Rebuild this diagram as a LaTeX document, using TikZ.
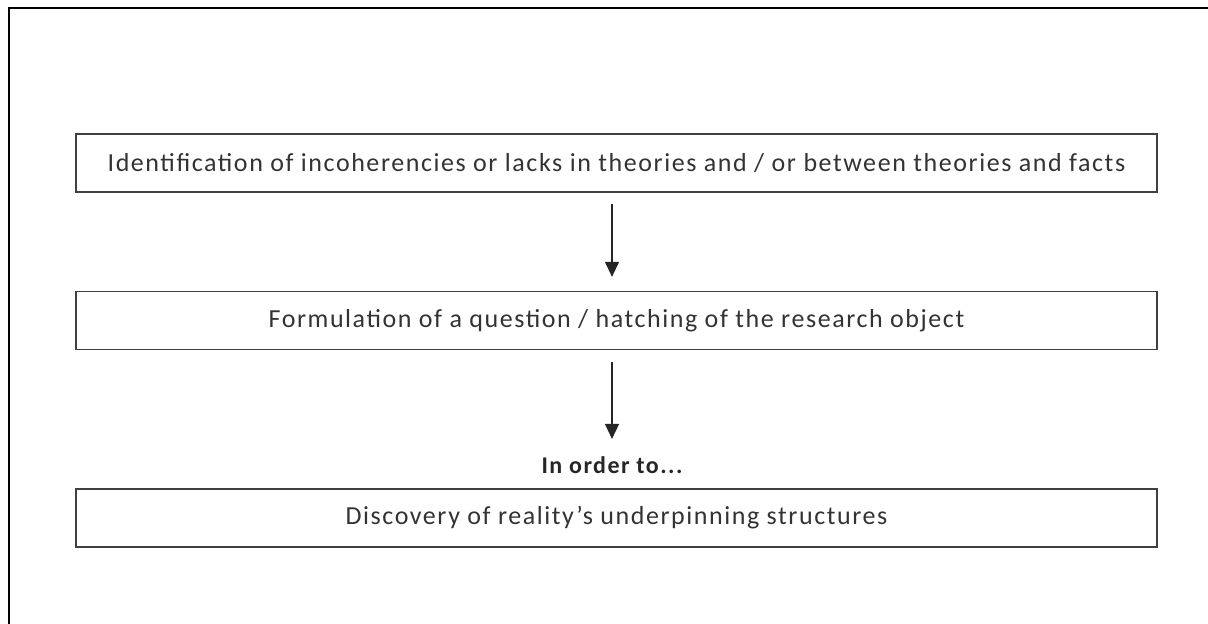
\documentclass[tikz,border=0pt]{standalone}
\usepackage{fontspec}
\setmainfont{Carlito}
\newfontfamily\spaced[LetterSpace=6]{Carlito}
\usetikzlibrary{arrows.meta}
\begin{document}
\begin{tikzpicture}[x=1pt,y=1pt,
  stepbox/.style={draw=black!75,line width=1.3pt,minimum width=1081pt,minimum height=58pt,inner sep=0pt,font=\spaced\fontsize{26}{30}\selectfont,text=black!80},
  arr/.style={-{Triangle[width=14pt,length=15pt]},line width=1.3pt,black!85},
  frame/.style={line width=2.4pt,black}]
\useasboundingbox (0,0) rectangle (1208,624);
\coordinate (tl) at (9,616);
\coordinate (tr) at (1208,616);
\coordinate (bl) at (9,0);
\draw[frame] (tr) -- (tl) -- (bl);
\node[stepbox] (b1) at (616.5,461) {Identification of incoherencies or lacks in theories and / or between theories and facts};
\node[stepbox] (b2) at (616.5,303.5) {Formulation of a question / hatching of the research object};
\node[font=\spaced\bfseries\fontsize{24}{28}\selectfont,text=black!85] (lab) at (612,159) {In order to...};
\node[stepbox] (b3) at (616.5,106) {Discovery of reality’s underpinning structures};
\coordinate (ax) at (612,0);
\draw[arr,shorten <=11pt,shorten >=14pt] (b1.south -| ax) -- (b2.north -| ax);
\draw[arr,shorten <=12pt,shorten >=14pt] (b2.south -| ax) -- (lab.north -| ax);
\end{tikzpicture}
\end{document}
